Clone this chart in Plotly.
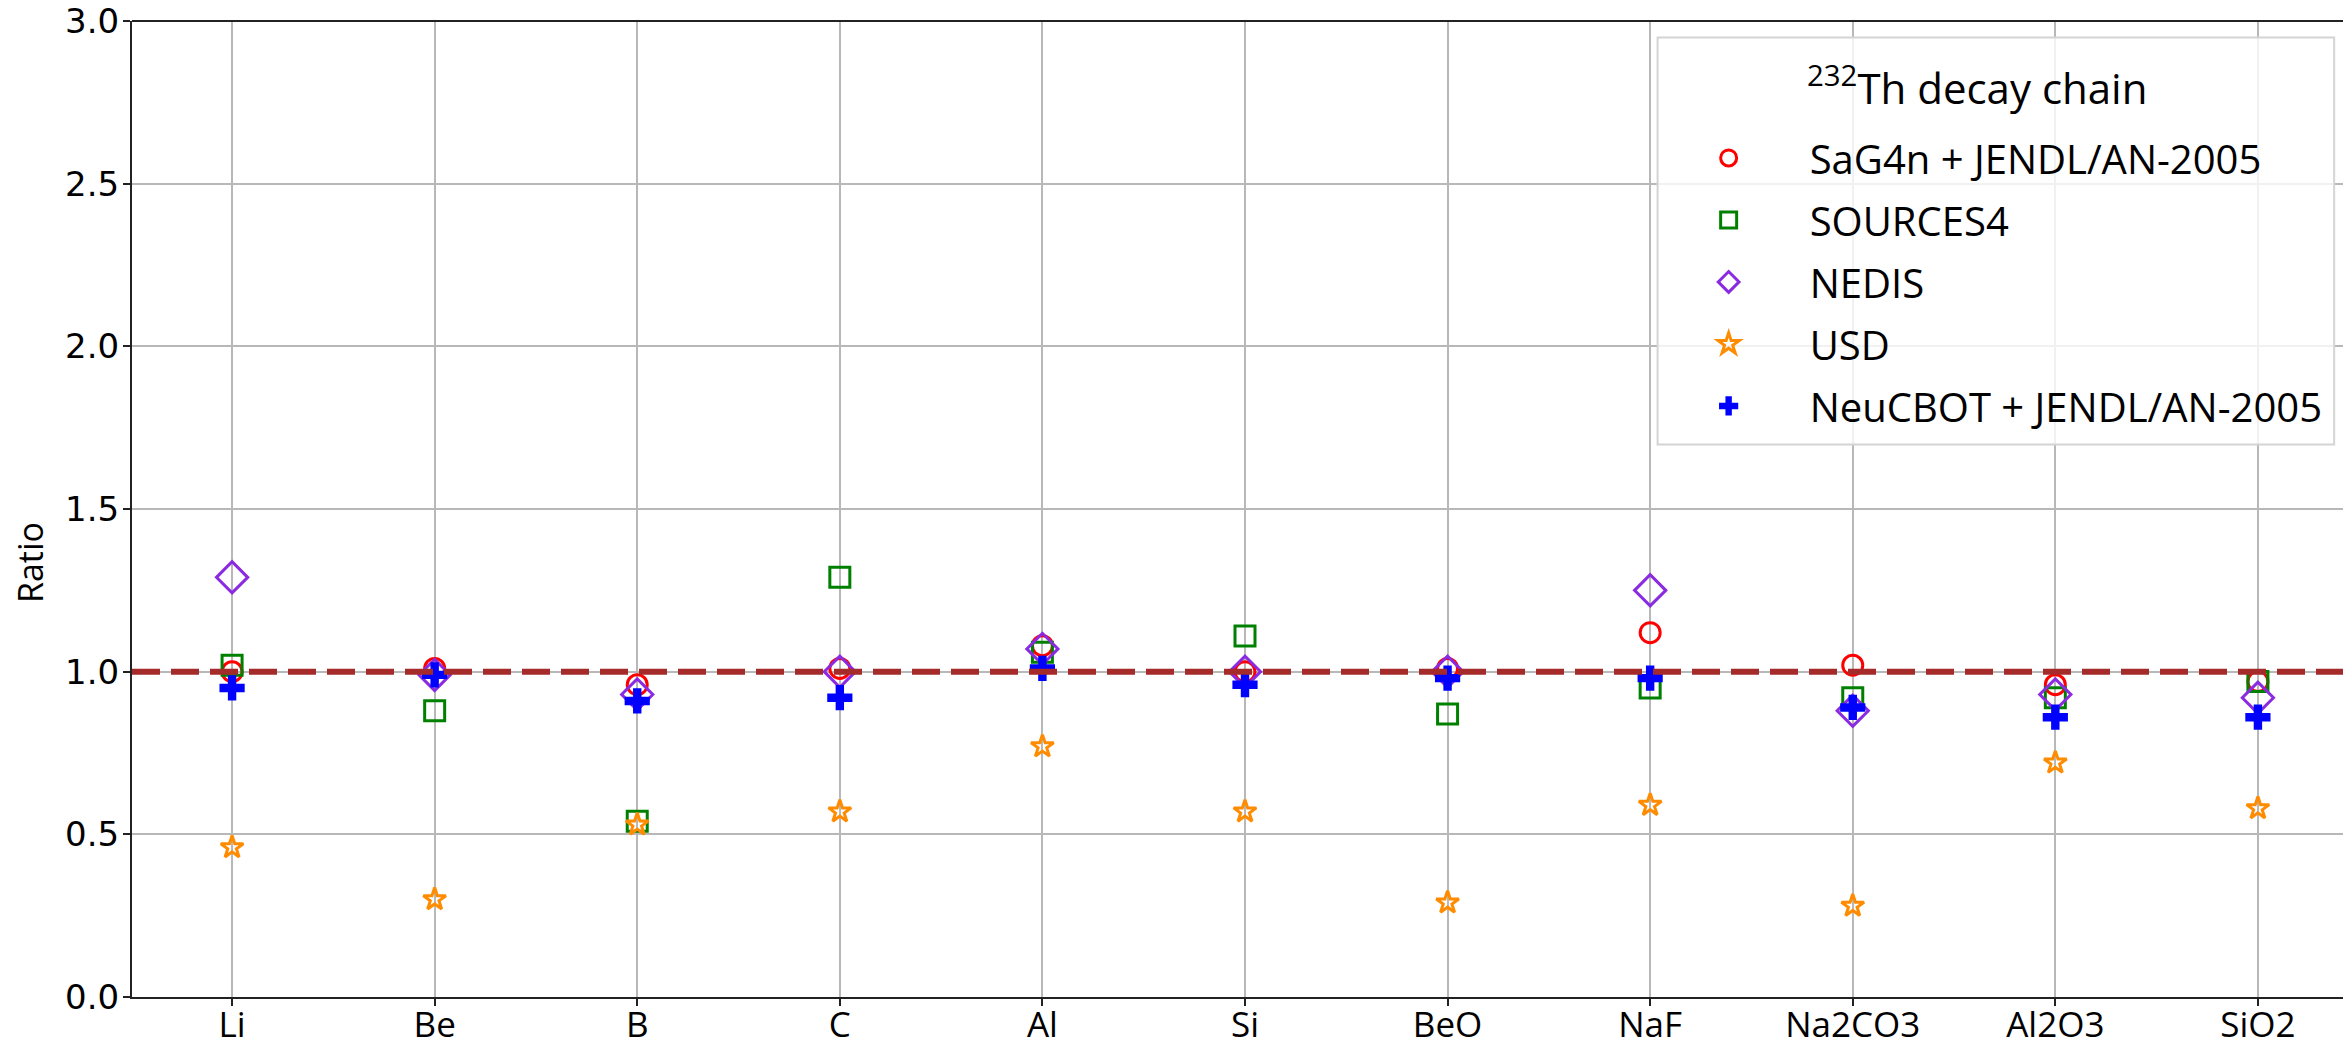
import plotly.graph_objects as go

categories = ["Li", "Be", "B", "C", "Al", "Si", "BeO", "NaF", "Na2CO3", "Al2O3", "SiO2"]
sag4n = [1.00, 1.01, 0.96, 1.01, 1.08, 1.00, 1.01, 1.12, 1.02, 0.96, 0.97]
sources4 = [1.02, 0.88, 0.54, 1.29, 1.06, 1.11, 0.87, 0.95, 0.92, 0.92, 0.97]
nedis = [1.29, 0.99, 0.93, 1.00, 1.07, 1.00, 1.00, 1.25, 0.88, 0.93, 0.92]
usd = [0.46, 0.30, 0.53, 0.57, 0.77, 0.57, 0.29, 0.59, 0.28, 0.72, 0.58]
neucbot = [0.95, 0.99, 0.91, 0.92, 1.01, 0.96, 0.98, 0.98, 0.89, 0.86, 0.86]
yticks = [0.0, 0.5, 1.0, 1.5, 2.0, 2.5, 3.0]

FONT = "Open Sans"
NUMFONT = "DejaVu Sans"
series = [
    ("SaG4n + JENDL/AN-2005", sag4n, "circle-open", "#ff0000", 20, 3),
    ("SOURCES4", sources4, "square-open", "#008000", 20, 3),
    ("NEDIS", nedis, "diamond-open", "#8a2be2", 24, 3),
    ("USD", usd, "star-open", "#ff8c00", 17, 3),
    ("NeuCBOT + JENDL/AN-2005", neucbot, "cross", "#0000ff", 21, 0),
]

fig = go.Figure()
for i, (name, vals, sym, col, size, lw) in enumerate(series):
    fig.add_trace(go.Scatter(
        x=categories, y=vals, mode="markers", name=name,
        legendgroup=f"g{i}",
        marker=dict(symbol=sym, color=col, size=size,
                    line=dict(color=col, width=lw)),
    ))

fig.add_shape(type="line", xref="paper", yref="y", x0=0, x1=1, y0=1.0, y1=1.0,
              line=dict(color="#a52a2a", width=6, dash="28px,11px"), layer="above")
fig.add_shape(type="line", xref="paper", yref="paper", x0=0, x1=1, y0=1, y1=1,
              line=dict(color="#222222", width=2), layer="above")
# legend frame
fig.add_shape(type="rect", xref="paper", yref="paper", x0=0.690, x1=0.996, y0=0.566, y1=0.983,
              line=dict(color="#d4d4d4", width=2), fillcolor="rgba(255,255,255,0.8)", layer="above")
fig.add_annotation(xref="paper", yref="paper", x=0.7567, y=0.934, showarrow=False,
                   xanchor="left", yanchor="middle",
                   text="<sup>232</sup>Th decay chain",
                   font=dict(family=FONT, size=42, color="black"))
fig.add_annotation(xref="paper", yref="paper", x=-0.0461, y=0.4447, showarrow=False,
                   xanchor="center", yanchor="middle", textangle=-90,
                   text="Ratio", font=dict(family=FONT, size=34, color="black"))

fig.update_layout(
    width=2343, height=1047,
    margin=dict(l=132, r=0, t=21, b=50),
    paper_bgcolor="white", plot_bgcolor="white",
    font=dict(family=FONT, size=36, color="black"),
    showlegend=True,
    legend=dict(
        x=0.6855, y=0.893, xanchor="left", yanchor="top",
        bgcolor="rgba(0,0,0,0)", borderwidth=0,
        font=dict(family=FONT, size=40, color="black"),
        traceorder="grouped", tracegroupgap=7, itemwidth=152,
    ),
    xaxis=dict(
        type="category", range=[-0.494, 10.42], automargin=False,
        showgrid=True, gridcolor="#b8b8b8", gridwidth=1.5,
        showline=True, linecolor="#222222", linewidth=2,
        ticks="outside", ticklen=7, tickwidth=2, tickcolor="#222222",
        tickfont=dict(family=FONT, size=35, color="black"),
        ticklabelstandoff=-11, ticklabeloverflow="allow",
    ),
    yaxis=dict(
        range=[0, 3.0], tickvals=yticks, ticktext=[f"{v:.1f}" for v in yticks],
        automargin=False, ticklabeloverflow="allow",
        showgrid=True, gridcolor="#b8b8b8", gridwidth=1.5, zeroline=False,
        showline=True, linecolor="#222222", linewidth=2,
        ticks="outside", ticklen=7, tickwidth=2, tickcolor="#222222",
        tickfont=dict(family=NUMFONT, size=34, color="black"),
        ticklabelstandoff=-3,
    ),
)

fig.write_html("out.html", config={"displayModeBar": False},
               post_script="document.body.style.margin='0px';document.body.style.overflow='hidden';")
